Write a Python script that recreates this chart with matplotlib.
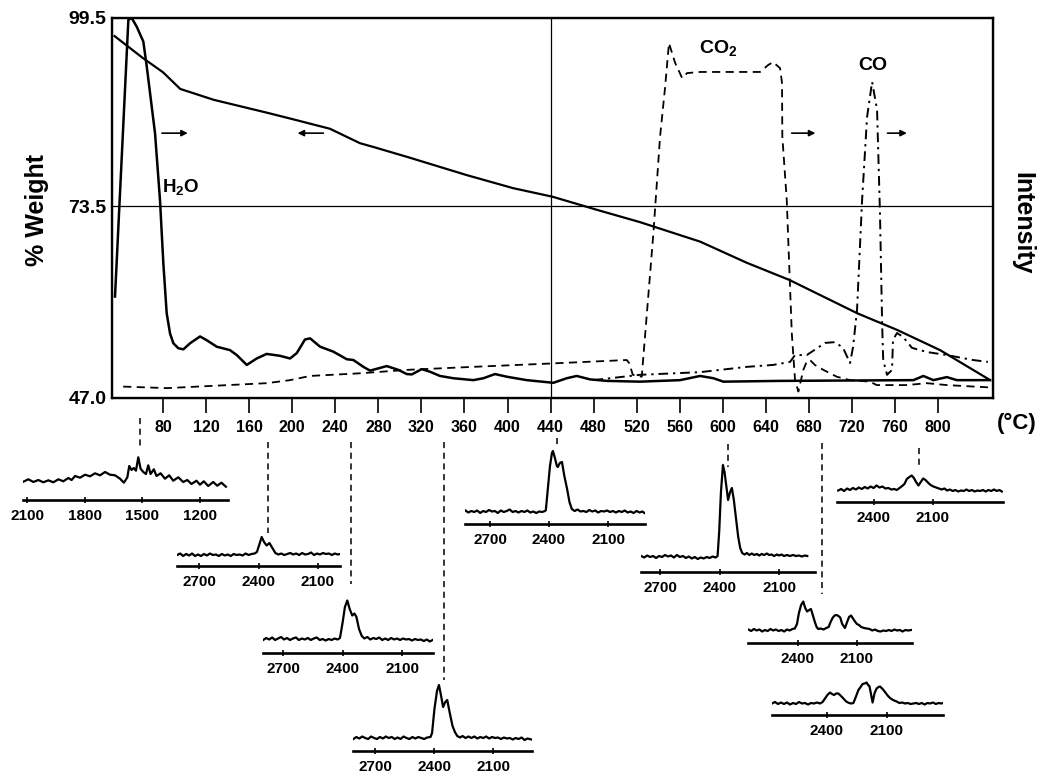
"""
TGA weight loss with evolved-gas traces (H2O, CO2, CO) and FTIR spectra insets.
"""

import matplotlib

matplotlib.use("Agg")
import matplotlib.pyplot as plt
from matplotlib.transforms import blended_transform_factory

plt.rcParams["font.family"] = ["Liberation Sans", "DejaVu Sans"]
plt.rcParams["font.weight"] = "bold"
plt.rcParams["mathtext.fontset"] = "custom"
plt.rcParams["mathtext.rm"] = "Liberation Sans:bold"
plt.rcParams["mathtext.it"] = "Liberation Sans:bold"
plt.rcParams["mathtext.bf"] = "Liberation Sans:bold"
plt.rcParams["mathtext.default"] = "rm"

FIG_W, FIG_H = 1042, 775

# ---- main panel: TGA (% weight, left axis) ----
tga_temp = [35, 61, 80, 96, 127, 177, 201, 235, 263, 275, 307, 362, 405, 442,
            483, 523, 579, 622, 662, 725, 762, 802, 848]
tga_wt = [97.0, 94.0, 92.0, 89.7, 88.2, 86.4, 85.5, 84.2, 82.2, 81.7, 80.3, 77.8,
          76.0, 74.8, 73.0, 71.3, 68.6, 65.7, 63.3, 58.7, 56.4, 53.6, 49.5]

# ---- evolved gas intensities (right axis, 0-100) ----
h2o_temp = [35.4, 47.8, 50.9, 55.6, 61.7, 64.9, 69.5, 72.6, 77.2, 80.3, 83.4, 86.5,
            89.6, 94.2, 98.9, 105.1, 114.4, 120.6, 129.9, 142.2, 148.5, 157.8, 167.0,
            176.3, 188.7, 198.0, 204.2, 211.9, 216.6, 225.9, 238.2, 250.7, 256.8,
            266.1, 272.3, 287.8, 298.6, 306.4, 311.1, 320.3, 328.1, 337.3, 349.7,
            368.3, 377.6, 388.4, 399.3, 417.9, 442.6, 455.0, 464.3, 476.7, 492.2,
            523.1, 560.3, 578.9, 591.3, 600.5, 653.2, 777.1, 786.3, 795.6, 808.1,
            817.4, 848.3]
h2o_int = [26.7, 99.5, 100.0, 97.7, 93.8, 87.2, 76.7, 69.6, 52.0, 35.4, 22.3, 17.0,
           14.4, 13.1, 12.8, 14.4, 16.2, 15.2, 13.5, 12.6, 11.3, 8.7, 10.4,
           11.6, 11.1, 10.4, 11.8, 15.4, 15.7, 13.5, 12.2, 10.2, 10.0,
           8.2, 7.2, 8.4, 7.4, 6.3, 6.2, 7.6, 6.9, 5.8, 5.2,
           4.7, 5.2, 6.3, 5.6, 4.7, 4.0, 5.2, 5.8, 4.9, 4.5,
           4.3, 4.7, 5.8, 5.2, 4.3, 4.5, 4.7, 5.8, 4.7, 5.5,
           4.7, 4.7]

co2_temp = [43.0, 83.4, 176.3, 198.0, 216.6, 263.0, 306.4, 368.3, 442.0, 510.8,
            513.2, 516.4, 524.7, 535.5, 541.7, 546.4, 550.0, 555.7, 562.2, 566.8,
            578.9, 634.6, 642.0, 646.7, 653.2, 655.0, 655.3, 659.4, 664.1, 667.1,
            670.2, 674.8, 678.0, 681.0, 685.5, 693.4, 705.9, 718.2, 736.8, 743.0,
            770.9, 789.5, 808.1, 846.8]
co2_int = [3.0, 2.6, 3.9, 4.7, 5.8, 6.5, 7.4, 8.2, 9.1, 10.0,
           9.1, 6.1, 5.6, 43.3, 68.7, 81.8, 93.4, 88.2, 84.2, 85.5,
           85.8, 85.8, 87.6, 88.4, 86.8, 82.9, 68.8, 52.1, 17.0, 4.7,
           1.7, 7.4, 9.6, 10.0, 8.7, 7.4, 5.6, 4.7, 4.3, 3.4,
           3.4, 3.9, 3.4, 2.8]

co_temp = [479.8, 523.1, 578.9, 622.5, 646.7, 662.5, 667.1, 678.0, 695.0, 704.3,
           711.7, 718.2, 721.0, 724.7, 729.4, 734.0, 738.7, 743.3, 746.0, 748.0,
           749.0, 752.6, 757.2, 758.1, 761.8, 767.4, 775.7, 789.6, 808.2, 832.3, 846.3]
co_int = [4.7, 6.1, 6.8, 8.2, 8.7, 9.5, 11.3, 11.3, 14.5, 14.7,
          13.2, 9.2, 13.4, 23.2, 52.1, 73.9, 83.2, 75.8, 48.7, 19.7,
          10.0, 6.1, 7.4, 15.3, 17.1, 16.1, 13.2, 12.1, 11.3, 10.0, 9.5]

temp_ticks = list(range(80, 801, 40))
weight_ticks = [47.0, 73.5, 99.5]

# temperatures at which the FTIR spectra were taken
spec_temps = [58.6, 177.5, 254.7, 341, 446, 605, 692, 782]

# ---- FTIR spectra (wavenumber cm-1, absorbance a.u.) ----
ins1 = [(2119, 18.3), (2093, 20.7), (2067, 18.0), (2041, 20.0), (2015, 17.7),
        (1989, 19.7), (1963, 17.7), (1937, 20.7), (1911, 18.7), (1885, 22.0),
        (1868, 20.0), (1850, 24.0), (1824, 22.3), (1798, 25.3), (1772, 23.7),
        (1746, 26.7), (1720, 24.7), (1694, 28.0), (1668, 25.3), (1642, 24.7),
        (1616, 21.3), (1596, 17.3), (1578, 22.7), (1568, 34.0), (1556, 30.0),
        (1544, 32.0), (1533, 29.3), (1521, 42.7), (1509, 31.3), (1495, 28.0),
        (1481, 26.0), (1469, 34.7), (1457, 26.0), (1440, 30.7), (1426, 24.0),
        (1405, 26.7), (1382, 21.3), (1360, 24.7), (1339, 19.3), (1313, 22.7),
        (1287, 18.0), (1266, 20.0), (1244, 16.0), (1218, 19.3), (1200, 15.3),
        (1180, 18.7), (1157, 14.0), (1131, 18.0), (1110, 14.3), (1088, 17.3),
        (1065, 13.3)]

ins2 = [(2810, 11.0), (2795, 12.5), (2780, 10.0), (2765, 12.0), (2750, 10.5),
        (2735, 12.5), (2720, 10.0), (2705, 11.5), (2690, 10.0), (2675, 12.0),
        (2660, 10.5), (2645, 12.5), (2630, 11.0), (2615, 11.5), (2600, 10.0),
        (2585, 12.0), (2570, 10.5), (2555, 11.5), (2540, 10.0), (2525, 12.0),
        (2510, 11.0), (2495, 11.5), (2480, 10.5), (2465, 12.5), (2450, 11.0),
        (2435, 12.0), (2420, 12.5), (2408, 14.0), (2395, 22.0), (2384, 29.0),
        (2372, 24.0), (2359, 20.5), (2345, 23.0), (2330, 18.0), (2315, 13.0),
        (2300, 11.5), (2285, 12.5), (2270, 11.0), (2255, 12.0), (2240, 13.0),
        (2225, 11.5), (2210, 12.5), (2195, 11.0), (2180, 13.0), (2165, 11.5),
        (2150, 12.0), (2135, 13.5), (2120, 11.0), (2105, 12.5), (2090, 11.5),
        (2075, 13.0), (2060, 12.0), (2045, 12.5), (2030, 11.0), (2015, 12.5),
        (2000, 11.5), (1990, 12.0)]

ins3 = [(2800, 13.0), (2785, 15.0), (2770, 13.5), (2755, 15.5), (2740, 13.0),
        (2725, 14.5), (2710, 16.0), (2695, 13.5), (2680, 15.0), (2665, 13.0),
        (2650, 14.5), (2635, 15.5), (2620, 13.0), (2605, 14.5), (2590, 13.5),
        (2575, 15.0), (2560, 13.0), (2545, 14.5), (2530, 15.5), (2515, 13.0),
        (2500, 14.0), (2485, 12.5), (2470, 14.0), (2455, 13.0), (2440, 14.5),
        (2425, 13.5), (2413, 15.0), (2400, 30.0), (2388, 46.0), (2376, 52.5),
        (2364, 44.0), (2351, 37.5), (2340, 39.5), (2330, 36.0), (2317, 24.0),
        (2303, 17.0), (2290, 14.5), (2275, 16.0), (2260, 13.5), (2245, 15.0),
        (2230, 14.0), (2215, 15.5), (2200, 13.0), (2185, 14.5), (2170, 13.0),
        (2155, 15.0), (2140, 13.5), (2125, 14.5), (2110, 13.0), (2095, 14.5),
        (2080, 13.5), (2065, 14.0), (2050, 12.5), (2035, 14.0), (2020, 13.0),
        (2005, 13.5), (1990, 12.0), (1975, 13.5), (1960, 11.5), (1946, 13.0)]

ins4 = [(2810, 12.0), (2795, 14.0), (2780, 12.5), (2765, 14.5), (2750, 13.0),
        (2735, 12.0), (2720, 14.5), (2705, 13.0), (2690, 12.0), (2675, 14.0),
        (2660, 12.5), (2645, 14.5), (2630, 13.0), (2615, 14.0), (2600, 12.0),
        (2585, 13.5), (2570, 12.0), (2555, 14.5), (2540, 13.0), (2525, 12.0),
        (2510, 14.0), (2495, 12.5), (2480, 14.0), (2465, 13.0), (2450, 12.0),
        (2435, 13.5), (2418, 14.0), (2410, 18.0), (2398, 42.0), (2385, 60.0),
        (2375, 66.0), (2364, 55.0), (2354, 44.0), (2343, 49.0), (2333, 51.0),
        (2320, 38.0), (2306, 25.0), (2294, 19.0), (2282, 15.0), (2268, 13.5),
        (2255, 15.0), (2240, 13.0), (2225, 14.5), (2210, 13.0), (2195, 14.5),
        (2180, 12.5), (2165, 14.0), (2150, 13.0), (2135, 14.5), (2120, 12.5),
        (2105, 14.0), (2090, 13.0), (2075, 13.5), (2060, 12.0), (2045, 13.5),
        (2030, 12.5), (2015, 13.0), (2000, 11.5), (1985, 13.0), (1970, 12.0),
        (1955, 13.5), (1940, 11.0), (1925, 12.5), (1905, 11.5)]

ins5 = [(2825, 13.5), (2810, 11.5), (2795, 13.0), (2780, 12.0), (2765, 13.5),
        (2750, 11.0), (2735, 13.0), (2720, 12.0), (2705, 14.0), (2690, 12.5),
        (2675, 13.0), (2660, 11.0), (2645, 13.5), (2630, 12.0), (2615, 13.0),
        (2600, 14.5), (2585, 12.0), (2570, 13.0), (2555, 11.5), (2540, 13.0),
        (2525, 12.0), (2510, 13.5), (2495, 11.5), (2480, 12.5), (2465, 11.0),
        (2450, 12.5), (2435, 12.0), (2420, 13.0), (2416, 14.0), (2406, 35.0),
        (2395, 58.0), (2385, 71.0), (2380, 73.0), (2370, 66.0), (2360, 58.0),
        (2355, 57.0), (2345, 61.0), (2334, 62.0), (2322, 48.0), (2308, 35.0),
        (2296, 22.0), (2284, 15.0), (2270, 13.0), (2255, 14.5), (2240, 12.5),
        (2225, 13.0), (2210, 12.0), (2195, 14.0), (2180, 12.5), (2165, 13.5),
        (2150, 11.5), (2135, 13.0), (2120, 12.5), (2105, 13.5), (2090, 12.0),
        (2075, 13.0), (2060, 11.5), (2045, 13.0), (2030, 12.0), (2015, 13.5),
        (2000, 11.5), (1985, 12.5), (1970, 11.0), (1955, 13.0), (1940, 11.5),
        (1925, 12.5), (1915, 11.0)]

ins6 = [(2795, 16.0), (2780, 14.5), (2765, 16.5), (2750, 15.0), (2735, 16.0),
        (2720, 14.0), (2705, 16.0), (2690, 15.0), (2675, 17.0), (2660, 15.5),
        (2645, 16.5), (2630, 14.5), (2615, 17.0), (2600, 15.0), (2585, 16.0),
        (2570, 14.0), (2555, 15.5), (2540, 13.5), (2525, 15.0), (2510, 13.0),
        (2495, 14.5), (2480, 13.5), (2465, 15.0), (2450, 14.0), (2435, 15.5),
        (2420, 14.5), (2410, 16.0), (2402, 40.0), (2393, 80.0), (2383, 107.0),
        (2375, 100.0), (2366, 86.0), (2357, 72.0), (2347, 80.0), (2338, 84.0),
        (2328, 72.0), (2318, 55.0), (2306, 35.0), (2296, 24.0), (2286, 19.0),
        (2274, 17.5), (2262, 19.0), (2250, 17.0), (2238, 18.5), (2225, 17.0),
        (2212, 18.0), (2200, 16.5), (2188, 18.0), (2175, 17.0), (2162, 18.5),
        (2150, 17.0), (2138, 17.5), (2125, 16.0), (2112, 17.5), (2100, 16.5),
        (2088, 17.5), (2075, 16.0), (2060, 17.0), (2045, 16.0), (2030, 17.0),
        (2015, 16.0), (2000, 16.5), (1985, 15.5), (1970, 16.5), (1958, 16.0)]

ins_r1 = [(2580, 11.5), (2565, 13.0), (2550, 11.0), (2535, 13.5), (2520, 12.0),
          (2505, 14.0), (2490, 12.5), (2475, 14.5), (2460, 13.0), (2445, 15.0),
          (2430, 13.5), (2415, 15.5), (2400, 14.0), (2385, 16.5), (2370, 14.5),
          (2355, 15.5), (2340, 13.5), (2325, 14.0), (2310, 12.5), (2295, 13.0),
          (2282, 12.0), (2268, 14.0), (2255, 16.0), (2243, 18.0), (2231, 23.0),
          (2218, 25.0), (2206, 26.5), (2195, 24.0), (2184, 20.0), (2172, 16.5),
          (2160, 20.0), (2148, 23.5), (2136, 22.0), (2124, 19.5), (2110, 17.0),
          (2096, 15.5), (2082, 14.5), (2068, 13.5), (2054, 12.5), (2040, 13.5),
          (2026, 11.5), (2012, 12.5), (1998, 11.0), (1984, 12.0), (1970, 10.5),
          (1956, 11.5), (1942, 11.0), (1928, 12.5), (1914, 11.0), (1900, 12.0),
          (1886, 10.5), (1872, 11.5), (1858, 11.0), (1844, 12.0), (1830, 10.5),
          (1816, 12.0), (1802, 11.0), (1788, 12.5), (1774, 11.0), (1760, 12.0),
          (1748, 10.5)]

ins_r2 = [(2652, 13.5), (2638, 12.0), (2624, 14.0), (2610, 12.5), (2596, 13.5),
          (2582, 11.5), (2568, 13.0), (2554, 12.0), (2540, 14.0), (2526, 12.5),
          (2512, 13.5), (2498, 12.0), (2484, 13.0), (2470, 11.5), (2456, 13.5),
          (2442, 12.5), (2428, 14.0), (2416, 14.5), (2405, 19.0), (2395, 30.0),
          (2384, 38.0), (2373, 41.5), (2363, 35.0), (2353, 31.5), (2343, 33.0),
          (2334, 34.0), (2323, 27.0), (2314, 21.0), (2305, 16.0), (2297, 14.0),
          (2284, 14.5), (2270, 13.5), (2256, 15.0), (2244, 16.0), (2234, 21.0),
          (2224, 25.0), (2214, 27.5), (2204, 28.0), (2194, 27.0), (2185, 25.5),
          (2175, 19.0), (2161, 15.0), (2150, 21.0), (2140, 26.0), (2130, 27.5),
          (2120, 24.5), (2110, 21.5), (2100, 19.0), (2090, 18.0), (2078, 16.0),
          (2064, 15.0), (2050, 14.5), (2036, 14.0), (2022, 12.5), (2008, 13.5),
          (1994, 12.0), (1980, 11.5), (1966, 12.5), (1952, 12.0), (1938, 13.0),
          (1924, 12.0), (1910, 13.5), (1896, 12.5), (1882, 13.0), (1868, 11.5),
          (1854, 13.0), (1840, 12.5), (1824, 13.0)]

ins_r3 = [(2675, 11.5), (2660, 13.0), (2645, 11.0), (2630, 12.5), (2615, 11.0),
          (2600, 12.5), (2585, 10.5), (2570, 12.0), (2555, 11.0), (2540, 13.0),
          (2525, 11.5), (2510, 12.0), (2495, 10.5), (2480, 12.0), (2465, 11.5),
          (2450, 12.5), (2435, 11.5), (2422, 13.0), (2410, 16.5), (2398, 20.0),
          (2385, 22.5), (2375, 21.0), (2365, 20.0), (2354, 21.5), (2343, 21.5),
          (2330, 19.0), (2318, 16.5), (2304, 13.5), (2290, 12.0), (2278, 11.5),
          (2268, 12.0), (2256, 18.0), (2243, 25.0), (2232, 28.0), (2222, 31.0),
          (2212, 31.5), (2202, 32.5), (2195, 30.0), (2188, 29.0), (2180, 21.0),
          (2172, 12.5), (2162, 22.0), (2152, 26.5), (2142, 28.0), (2135, 28.5),
          (2122, 26.0), (2110, 23.0), (2097, 19.5), (2085, 17.0), (2070, 15.0),
          (2052, 13.5), (2038, 12.0), (2024, 12.5), (2010, 11.5), (1996, 12.0),
          (1982, 11.0), (1968, 11.5), (1954, 12.0), (1940, 11.0), (1926, 12.0),
          (1912, 10.5), (1898, 12.0), (1885, 11.5), (1870, 12.5), (1856, 11.0),
          (1842, 12.0), (1828, 11.5), (1820, 12.0)]

# ---- layout (figure pixels) ----
MAIN_BOX = (112, 18, 993, 398)          # left, top, right, bottom
INSET_H = 112                           # px per 112 a.u.
# spectrum, x-limits, ticks, (left px, axis-line y px, right px)
INSETS = [
    (ins1, (2121, 1054), [2100, 1800, 1500, 1200], (23, 500, 228)),
    (ins2, (2811, 1989), [2700, 2400, 2100], (177, 566, 340)),
    (ins3, (2801, 1944), [2700, 2400, 2100], (263, 653, 433)),
    (ins4, (2812, 1902), [2700, 2400, 2100], (353, 751, 532)),
    (ins5, (2827, 1912), [2700, 2400, 2100], (465, 524, 645)),
    (ins6, (2796, 1919), [2700, 2400, 2100], (641, 572, 815)),
    (ins_r2, (2654, 1820), [2400, 2100], (748, 643, 912)),
    (ins_r1, (2586, 1742), [2400, 2100], (837, 502, 1003)),
    (ins_r3, (2675, 1820), [2400, 2100], (772, 715, 943)),
]
# vertical extent of the dashed connector for each entry of spec_temps
CONNECT_PX = [(418, 450), (442, 533), (442, 584), (442, 680),
              (438, 447), (444, 467), (443, 594), (448, 468)]


def fx(px):
    return px / FIG_W


def fy(py):
    return 1 - py / FIG_H


def main():
    fig = plt.figure(figsize=(FIG_W / 100, FIG_H / 100), dpi=100)
    l, t, r, b = MAIN_BOX
    ax = fig.add_axes([fx(l), fy(b), fx(r) - fx(l), fy(t) - fy(b)])

    ax.plot(tga_temp, tga_wt, color="k", lw=1.6)
    ax.axhline(73.5, color="k", lw=0.9)
    ax.axvline(440, color="k", lw=0.9)
    ax.set_ylim(47.0, 99.5)
    ax.set_yticks(weight_ticks)
    ax.set_yticklabels([f"{v:.1f}" for v in weight_ticks])
    ax.set_xticks(temp_ticks)
    ax.tick_params(axis="x", direction="out", length=11, width=1.2, pad=5, labelsize=11.5)
    ax.tick_params(axis="y", length=0, pad=4, labelsize=14)
    for sp in ax.spines.values():
        sp.set_linewidth(1.7)

    ax2 = ax.twinx()
    ax2.plot(h2o_temp, h2o_int, color="k", lw=1.8)
    ax2.plot(co2_temp, co2_int, color="k", lw=1.3, ls=(0, (4.5, 3)))
    ax2.plot(co_temp, co_int, color="k", lw=1.4, ls=(0, (5, 2.5, 1.2, 2.5)))
    ax2.set_ylim(0, 100)
    ax2.set_yticks([])
    ax2.set_xlim(32.6, 851)
    ax.set_xlim(32.6, 851)

    ax2.text(96.7, 55.5, r"H$_2$O", fontsize=13.5, ha="center", va="center")
    ax2.text(595.6, 92.1, r"CO$_2$", fontsize=14, ha="center", va="center")
    ax2.text(739.6, 87.6, "CO", fontsize=14, ha="center", va="center")

    # arrows pointing to the axis each trace belongs to
    for x0, x1 in [(79, 103), (229, 205), (664, 686), (753, 771)]:
        ax2.annotate("", xy=(x1, 69.7), xytext=(x0, 69.7),
                     arrowprops=dict(arrowstyle="-|>", color="k", lw=1.2,
                                     mutation_scale=9, shrinkA=0, shrinkB=0))

    fig.text(fx(37), fy(210), "% Weight", rotation=90, fontsize=18,
             ha="center", va="center")
    fig.text(fx(1022), fy(223), "Intensity", rotation=270, fontsize=18,
             ha="center", va="center")
    fig.text(fx(1017), fy(423), "(°C)", fontsize=16, ha="center", va="center")

    # dashed connectors from the temperature axis to each spectrum
    trans = blended_transform_factory(ax.transData, fig.transFigure)
    for temp, (y0, y1) in zip(spec_temps, CONNECT_PX):
        ax.plot([temp, temp], [fy(y0), fy(y1)], transform=trans, clip_on=False,
                color="k", lw=1.1, ls=(0, (4, 3)))

    for spec, xlim, ticks, (il, iy, ir) in INSETS:
        iax = fig.add_axes([fx(il), fy(iy), fx(ir) - fx(il), INSET_H / FIG_H])
        wn, a = zip(*spec)
        iax.plot(wn, a, color="k", lw=1.6)
        iax.set_xlim(*xlim)
        iax.set_ylim(0, INSET_H)
        iax.set_xticks(ticks)
        iax.set_yticks([])
        iax.tick_params(axis="x", direction="inout", length=5, width=1.2, pad=4,
                        labelsize=11)
        for s in ("left", "right", "top"):
            iax.spines[s].set_visible(False)
        iax.spines["bottom"].set_linewidth(1.9)
        iax.patch.set_alpha(0)

    fig.savefig("out.png", dpi=100)
    plt.close(fig)


if __name__ == "__main__":
    main()
